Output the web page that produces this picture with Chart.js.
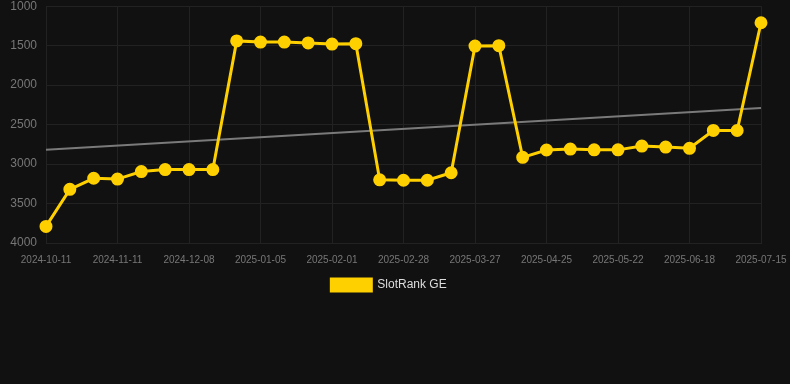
<!DOCTYPE html>
<html>
<head>
<meta charset="utf-8">
<script src="https://cdn.jsdelivr.net/npm/chart.js@4"></script>
<style>
  html, body { margin: 0; padding: 0; background: #111111; overflow: hidden; }
  #wrap { width: 790px; height: 311px; position: relative; margin-top: -10px; }
</style>
</head>
<body>
<div id="wrap"><canvas id="rankChart"></canvas></div>
<script>
// dates of each sample (only every 3rd one gets a tick label)
var dates = [
    '2024-10-11', '2024-10-21', '2024-10-31',
    '2024-11-11', '2024-11-20', '2024-11-29',
    '2024-12-08', '2024-12-17', '2024-12-26',
    '2025-01-05', '2025-01-14', '2025-01-23',
    '2025-02-01', '2025-02-10', '2025-02-19',
    '2025-02-28', '2025-03-09', '2025-03-18',
    '2025-03-27', '2025-04-05', '2025-04-15',
    '2025-04-25', '2025-05-04', '2025-05-13',
    '2025-05-22', '2025-05-31', '2025-06-09',
    '2025-06-18', '2025-06-27', '2025-07-06',
    '2025-07-15'
];
var rankGE = [
    3790, 3320, 3180, 3190, 3095, 3070, 3070, 3070, 1440, 1455,
    1455, 1465, 1480, 1475, 3200, 3205, 3205, 3110, 1505, 1500,
    2915, 2822, 2810, 2820, 2820, 2772, 2785, 2800, 2574, 2575,
    1210
];
// trend line: only the two ends, gap spanned
var trendEnds = [2820, 2290];
var trend = dates.map(function(d, i) {
    if (i === 0) return trendEnds[0];
    if (i === dates.length - 1) return trendEnds[1];
    return null;
});
var yTicks = [1000, 1500, 2000, 2500, 3000, 3500, 4000];

var ctx = document.getElementById('rankChart');
new Chart(ctx, {
    type: 'line',
    data: {
        labels: dates,
        datasets: [
            {
                label: 'SlotRank GE',
                data: rankGE,
                borderColor: '#FFD000',
                backgroundColor: '#FFD000',
                borderWidth: 3,
                pointRadius: 5,
                pointHoverRadius: 5,
                tension: 0
            },
            {
                label: 'trend',
                data: trend,
                spanGaps: true,
                borderColor: '#7a7a7a',
                borderWidth: 2,
                pointRadius: 0,
                tension: 0
            }
        ]
    },
    options: {
        responsive: true,
        maintainAspectRatio: false,
        animation: false,
        layout: { padding: { left: 0, right: 12, top: 0, bottom: 0 } },
        scales: {
            x: {
                afterFit: function(axis) {
                    axis.paddingRight = 29;
                    axis.height = axis.height - 3;
                },
                grid: {
                    drawTicks: false,
                    color: function(c) { return c.index % 3 === 0 ? '#222222' : 'rgba(0,0,0,0)'; }
                },
                border: { color: '#222222' },
                ticks: {
                    autoSkip: false,
                    maxRotation: 0,
                    padding: 11,
                    color: '#777777',
                    font: { family: 'Arial, "Liberation Sans"', size: 10 },
                    callback: function(v, i) { return i % 3 === 0 ? dates[i] : ''; }
                }
            },
            y: {
                reverse: true,
                min: 1000,
                max: 4000,
                afterBuildTicks: function(axis) {
                    axis.ticks = yTicks.map(function(v) { return { value: v }; });
                },
                afterFit: function(axis) { axis.width = 46; },
                grid: { color: '#222222', drawTicks: false },
                border: { display: false },
                ticks: {
                    padding: 9,
                    color: '#777777',
                    font: { family: 'Arial, "Liberation Sans"', size: 12 },
                    callback: function(v) { return String(v); }
                }
            }
        },
        plugins: {
            legend: {
                position: 'bottom',
                labels: {
                    filter: function(item) { return item.text !== 'trend'; },
                    boxWidth: 40,
                    boxHeight: 12,
                    padding: 5,
                    color: '#dddddd',
                    font: { family: 'Arial, "Liberation Sans"', size: 12 }
                }
            },
            tooltip: { enabled: false }
        }
    }
});
</script>
</body>
</html>
